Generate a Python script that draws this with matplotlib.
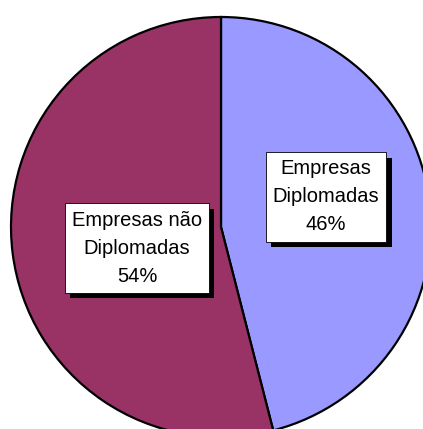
import matplotlib.pyplot as plt
from matplotlib import patheffects

# data
labels = ['Empresas\nDiplomadas\n46%', 'Empresas não\nDiplomadas\n54%']
values = [46, 54]
colors = ['#9999FF', '#993366']

fig = plt.figure(figsize=(4.23, 4.29), dpi=100)
ax = fig.add_axes([0, 0, 1, 1])

wedges, _ = ax.pie(values, colors=colors, startangle=90, counterclock=False,
                   center=(221, 202), radius=210, frame=True,
                   wedgeprops=dict(edgecolor='black', linewidth=1.6))
ax.set_xlim(0, 423)
ax.set_ylim(0, 429)
ax.set_aspect('auto')
ax.axis('off')

# label boxes with black drop shadow
label_pos = [(326, 232), (137, 181)]
for txt, (x, y) in zip(labels, label_pos):
    t = ax.text(x, y, txt, ha='center', va='center', fontsize=14.5,
                family='Liberation Sans', linespacing=1.6,
                bbox=dict(boxstyle='square,pad=0.35', facecolor='white',
                          edgecolor='black', linewidth=0.6))
    t.get_bbox_patch().set_path_effects([
        patheffects.SimplePatchShadow(offset=(3.8, -3.8), shadow_rgbFace='black', alpha=1),
        patheffects.Normal()])

fig.savefig('out.png', dpi=100)
